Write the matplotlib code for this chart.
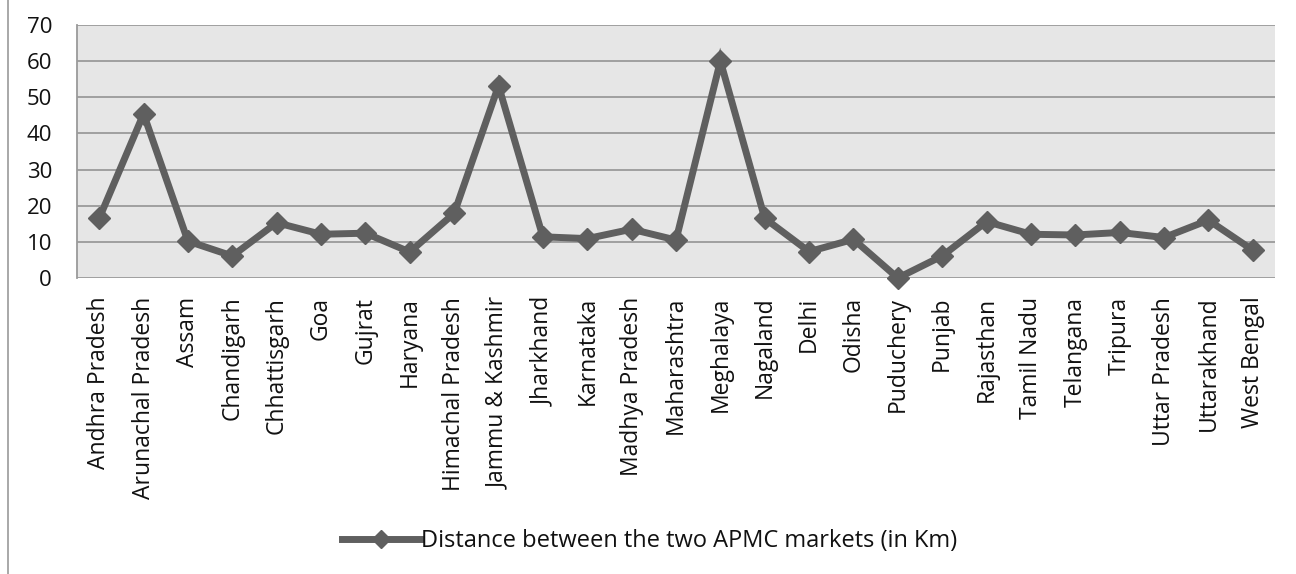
import matplotlib
matplotlib.use("Agg")
import matplotlib.pyplot as plt
from matplotlib.lines import Line2D

states = ["Andhra Pradesh", "Arunachal Pradesh", "Assam", "Chandigarh", "Chhattisgarh",
          "Goa", "Gujrat", "Haryana", "Himachal Pradesh", "Jammu & Kashmir", "Jharkhand",
          "Karnataka", "Madhya Pradesh", "Maharashtra", "Meghalaya", "Nagaland", "Delhi",
          "Odisha", "Puduchery", "Punjab", "Rajasthan", "Tamil Nadu", "Telangana",
          "Tripura", "Uttar Pradesh", "Uttarakhand", "West Bengal"]
distance_km = [16.5, 45.4, 10.2, 6.1, 15.3, 12.1, 12.4, 7.2, 17.9, 53.2, 11.4,
               10.9, 13.5, 10.5, 60.0, 16.5, 7.3, 10.7, 0.0, 6.1, 15.6, 12.1, 11.9,
               12.6, 11.2, 16.0, 7.7]
yticks = [0, 10, 20, 30, 40, 50, 60, 70]
series_name = "Distance between the two APMC markets (in Km)"

plt.rcParams['font.family'] = ['Open Sans', 'DejaVu Sans']

fig = plt.figure(figsize=(12.96, 5.74), dpi=100)
ax = fig.add_axes([77/1296, 1 - 278/574, (1275 - 77)/1296, (278 - 25)/574])
ax.set_facecolor('#e6e6e6')

x = list(range(len(states)))
line_color = '#5f5f5f'
ax.plot(x, distance_km, color=line_color, lw=5, marker='D', markersize=11,
        markerfacecolor=line_color, markeredgecolor=line_color, solid_joinstyle='miter',
        zorder=3, clip_on=False)

ax.set_xlim(-0.5, len(states) - 0.5)
ax.set_ylim(0, 70)
ax.set_yticks(yticks)
ax.set_yticklabels([str(v) for v in yticks], fontsize=16, color='#111111')
ax.set_xticks(x)
ax.set_xticklabels(states, rotation=90, fontsize=16.5, va='top', ha='center', color='#111111')
ax.tick_params(axis='both', length=0)
ax.tick_params(axis='y', pad=18)
ax.tick_params(axis='x', pad=13.5)
ax.yaxis.grid(True, color='#9a9a9a', lw=1.3)
ax.set_axisbelow(True)
for side in ['top', 'bottom', 'left', 'right']:
    ax.spines[side].set_visible(False)
ax.spines['left'].set_visible(True)
ax.spines['left'].set_color('#9a9a9a')
ax.spines['left'].set_linewidth(1.3)

# chart area border on the left
fig.add_artist(Line2D([8/1296, 8/1296], [0, 1], color='#9a9a9a', lw=1.2,
                      transform=fig.transFigure))

handle = Line2D([], [], color=line_color, lw=5, marker='D', markersize=9,
                markerfacecolor=line_color, markeredgecolor=line_color)
fig.legend([handle], [series_name], loc='center', bbox_to_anchor=(650/1296, 1 - 541/574),
           frameon=False, fontsize=17, handlelength=3.3, handletextpad=0.05,
           labelcolor='#111111')

fig.savefig("out.png", dpi=100, facecolor='white')
